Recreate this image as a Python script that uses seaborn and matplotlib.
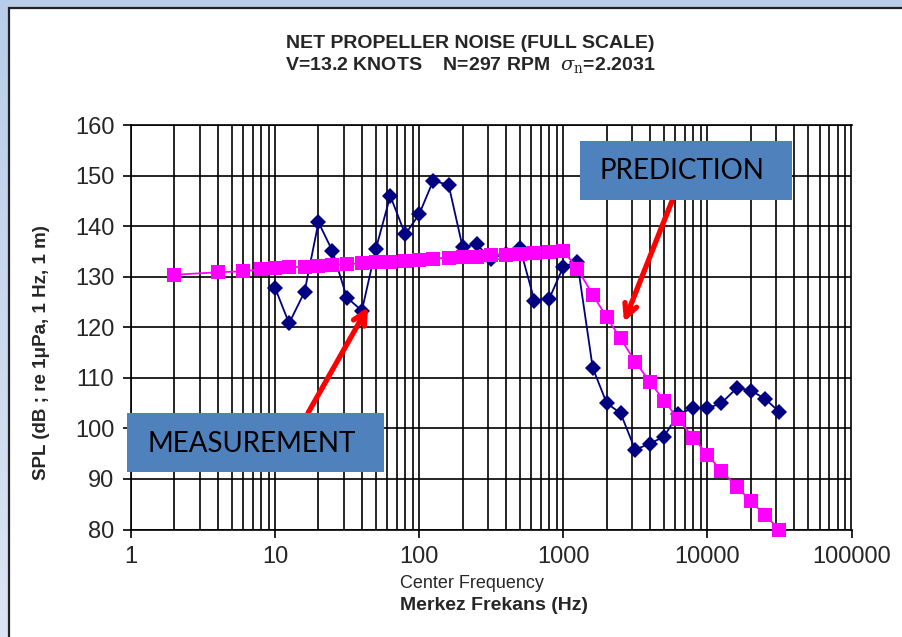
import numpy as np
import pandas as pd
import matplotlib
matplotlib.use("Agg")
import matplotlib.pyplot as plt
import seaborn as sns
from matplotlib.patches import Rectangle
from matplotlib.ticker import LogLocator, NullFormatter, FixedLocator

# ---- data ----
meas_freq = [10, 12.5, 16, 20, 25, 31.5, 40, 50, 63, 80,
             100, 125, 160, 200, 250, 315, 400, 500, 630, 800,
             1000, 1250, 1600, 2000, 2500, 3150, 4000, 5000, 6300, 8000,
             10000, 12500, 16000, 20000, 25000, 31500]
meas_spl = [127.8, 120.8, 127.0, 140.8, 135.1, 125.9, 123.3, 135.5, 146.0, 138.4,
            142.4, 149.0, 148.2, 135.9, 136.4, 133.6, 134.6, 135.8, 125.3, 125.7,
            132.0, 133.0, 112.0, 105.0, 103.0, 95.8, 97.0, 98.4, 102.9, 104.0,
            104.0, 105.0, 108.0, 107.5, 105.9, 103.3]

pred_freq = [2, 4, 6, 8, 10, 12.5, 16, 20, 25, 31.5, 40, 50, 63, 80,
             100, 125, 160, 200, 250, 315, 400, 500, 630, 800,
             1000, 1250, 1600, 2000, 2500, 3150, 4000, 5000, 6300, 8000,
             10000, 12500, 16000, 20000, 25000, 31500]
pred_spl = [130.4, 130.9, 131.1, 131.5, 131.7, 131.9, 132.0, 132.1, 132.3, 132.5,
            132.7, 132.9, 133.0, 133.2, 133.4, 133.6, 133.8, 133.9, 134.0, 134.3,
            134.4, 134.6, 134.8, 135.0, 135.2, 131.6, 126.5, 122.0, 117.8, 113.2,
            109.2, 105.5, 101.8, 98.1, 94.8, 91.6, 88.5, 85.6, 82.9, 80.0]

x_ticks = [1, 10, 100, 1000, 10000, 100000]
x_ticklabels = ["1", "10", "100", "1000", "10000", "100000"]
y_ticks = [80, 90, 100, 110, 120, 130, 140, 150, 160]

title1 = "NET PROPELLER NOISE (FULL SCALE)"
title2 = r"V=13.2 KNOTS    N=297 RPM  $\sigma_{\mathrm{n}}$=2.2031"
ylabel = "SPL (dB ; re 1\u03bcPa, 1 Hz, 1 m)"
xlabel1 = "Center Frequency"
xlabel2 = "Merkez Frekans (Hz)"
box_labels = ["MEASUREMENT", "PREDICTION"]

meas_df = pd.DataFrame({"freq": meas_freq, "spl": meas_spl})
pred_df = pd.DataFrame({"freq": pred_freq, "spl": pred_spl})

sns.set_style("white")
plt.rcParams["font.family"] = ["Liberation Sans", "DejaVu Sans"]
plt.rcParams["mathtext.fontset"] = "dejavuserif"

W, H = 903, 637
fig = plt.figure(figsize=(W / 100, H / 100), dpi=100)

# background: light blue gradient frame + white panel
bg = fig.add_axes([0, 0, 1, 1], zorder=-10)
grad = np.linspace(0, 1, 256).reshape(-1, 1)
c_top = np.array([0.725, 0.804, 0.914])
c_bot = np.array([0.863, 0.898, 0.953])
img = c_top[None, None, :] * (1 - grad[:, :, None]) + c_bot[None, None, :] * grad[:, :, None]
bg.imshow(img, aspect="auto", extent=[0, 1, 0, 1], origin="upper")
bg.set_xlim(0, 1); bg.set_ylim(0, 1)
bg.axis("off")
bg.add_patch(Rectangle((8.5 / W, -0.01), 1.1, 1 - 7.5 / H + 0.01, facecolor="white",
                       edgecolor="#222222", linewidth=1.6))

ax = fig.add_axes([131 / W, 1 - 529.5 / H, (851.5 - 131) / W, (529.5 - 125.2) / H])
ax.set_xscale("log")

sns.lineplot(data=pred_df, x="freq", y="spl", ax=ax, color="#FF00FF", marker="s",
             markersize=9.5, markeredgewidth=0, linewidth=1.3, clip_on=False, zorder=4)
sns.lineplot(data=meas_df, x="freq", y="spl", ax=ax, color="#000080", marker="D",
             markersize=8, markeredgewidth=0, linewidth=1.3, clip_on=False, zorder=3)

ax.set_xlim(1, 100000)
ax.set_ylim(80, 160)
ax.xaxis.set_major_locator(FixedLocator(x_ticks))
ax.set_xticklabels(x_ticklabels)
ax.xaxis.set_minor_locator(LogLocator(base=10, subs=np.arange(2, 10), numticks=20))
ax.xaxis.set_minor_formatter(NullFormatter())
ax.set_yticks(y_ticks)
ax.set_yticklabels([str(v) for v in y_ticks])

ax.grid(True, which="major", axis="both", color="black", linewidth=1.2)
ax.grid(True, which="minor", axis="x", color="black", linewidth=1.2)
ax.set_axisbelow(True)
for s in ax.spines.values():
    s.set_color("black")
    s.set_linewidth(1.2)
ax.tick_params(axis="both", which="major", direction="out", length=6, width=1.2,
               color="black", labelsize=17, pad=6, left=True, bottom=True)
ax.tick_params(axis="x", which="minor", length=0)
ax.set_xlabel("")
ax.set_ylabel("")
ax.set_facecolor("none")

# titles / labels
fig.text(470 / W, 1 - 43 / H, title1, ha="center", va="center", fontsize=14, fontweight="bold")
fig.text(470 / W, 1 - 65 / H, title2, ha="center", va="center", fontsize=14, fontweight="bold")
fig.text(42 / W, 1 - 353 / H, ylabel, ha="center", va="center", rotation=90,
         fontsize=13.5, fontweight="bold")
fig.text(400 / W, 1 - 584 / H, xlabel1, ha="left", va="center", fontsize=13)
fig.text(400 / W, 1 - 606 / H, xlabel2, ha="left", va="center", fontsize=14, fontweight="bold")

# annotation boxes
box_color = "#4F81BD"
box_geom = [(127, 413, 384, 472), (580, 141, 792, 200)]
for (x0, y0, x1, y1), txt in zip(box_geom, box_labels):
    fig.patches.append(Rectangle((x0 / W, 1 - y1 / H), (x1 - x0) / W, (y1 - y0) / H,
                                 transform=fig.transFigure, facecolor=box_color,
                                 edgecolor="none", zorder=5))
    fig.text((x0 + 20) / W, 1 - (y0 + y1 + 2) / 2 / H, txt, ha="left", va="center",
             fontsize=20, family=["Lato", "DejaVu Sans"], color="black", zorder=6)

# red arrows
for (xs, ys, xe, ye) in [(308, 413, 368, 307), (672, 201, 624, 322)]:
    ax.annotate("", xy=(xe / W, 1 - ye / H), xytext=(xs / W, 1 - ys / H),
                xycoords="figure fraction", textcoords="figure fraction",
                arrowprops=dict(arrowstyle="->,head_length=0.9,head_width=0.45",
                                color="#FF0000", linewidth=3.8, shrinkA=0, shrinkB=0),
                zorder=4, annotation_clip=False)

fig.savefig("out.png", dpi=100)
